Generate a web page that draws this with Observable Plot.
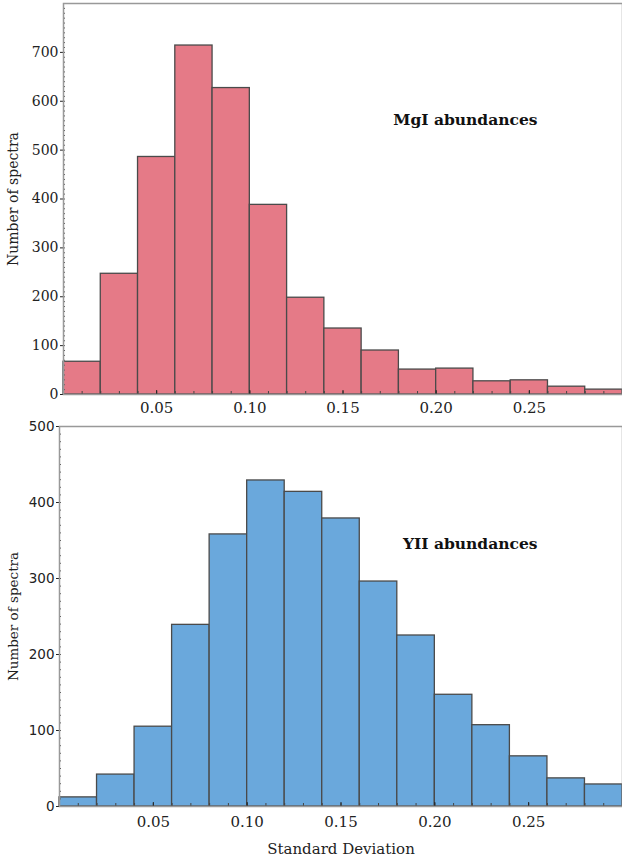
<!DOCTYPE html>
<html>
<head>
<meta charset="utf-8">
<script src="https://cdn.jsdelivr.net/npm/d3@7"></script>
<script src="https://cdn.jsdelivr.net/npm/@observablehq/plot@0.6"></script>
<style>
  html, body { margin: 0; padding: 0; background: #fff; }
  svg { display: block; overflow: visible; }
  #chart svg, #chart svg text { font-family: 'DejaVu Serif', serif !important; }
  #chart svg.bottom g[aria-label="y-axis tick label"],
  #chart svg.bottom g[aria-label="y-axis tick label"] text { font-family: 'DejaVu Sans', sans-serif !important; }
</style>
</head>
<body>
<div id="chart"></div>
<script>
// Bin edges (Standard Deviation), bin width 0.02
const binStart = [0.00, 0.02, 0.04, 0.06, 0.08, 0.10, 0.12, 0.14, 0.16, 0.18, 0.20, 0.22, 0.24, 0.26, 0.28];
const binEnd   = [0.02, 0.04, 0.06, 0.08, 0.10, 0.12, 0.14, 0.16, 0.18, 0.20, 0.22, 0.24, 0.26, 0.28, 0.30];
// Counts
const mgCounts = [67, 247, 486, 714, 627, 388, 198, 135, 90, 51, 53, 27, 29, 16, 10];
const yCounts  = [12, 42, 105, 239, 358, 429, 414, 379, 296, 225, 147, 107, 66, 37, 29];
// Tick labels
const xTickLabels = [0.05, 0.10, 0.15, 0.20, 0.25];
const yTicksTop = [0, 100, 200, 300, 400, 500, 600, 700];
const yTicksBottom = [0, 100, 200, 300, 400, 500];
const titles = ["MgI abundances", "YII abundances"];
const yLabel = "Number of spectra";
const xLabel = "Standard Deviation";

const mgData = binStart.map((b, i) => ({x1: b, x2: binEnd[i], count: mgCounts[i]}));
const yData  = binStart.map((b, i) => ({x1: b, x2: binEnd[i], count: yCounts[i]}));

const serif = "'DejaVu Serif', serif";
const sans = "'DejaVu Sans', sans-serif";

function panel({data, fill, yMax, yTicks, title, height, mTop, mBottom, mLeft, yFont, showXLabel, titleDy, xPad, cls}) {
  return Plot.plot({
    className: cls,
    width: 622,
    height,
    marginLeft: mLeft,
    marginRight: 0,
    marginTop: mTop,
    marginBottom: mBottom,
    x: {domain: [0, 0.3]},
    y: {domain: [0, yMax]},
    style: {fontFamily: serif, fontSize: "14px", color: "#222", background: "#fff", overflow: "visible"},
    marks: [
      Plot.rectY(data, {x1: "x1", x2: "x2", y: "count", fill, stroke: "#4a4a4a", strokeWidth: 1.3, inset: 0}),
      Plot.axisX({ticks: 30, tickSize: -3, tickFormat: () => "", label: null, stroke: "#444"}),
      Plot.axisX({ticks: xTickLabels, tickSize: -4, tickPadding: xPad, tickFormat: d3.format(".2f"),
                  fontSize: 15, fill: "#222",
                  label: showXLabel ? xLabel : null, labelAnchor: "center", labelArrow: "none", labelOffset: 47}),
      Plot.axisY({ticks: d3.range(0, yMax + 1, 10), tickSize: -2, tickFormat: () => "", label: null, stroke: "#555"}),
      Plot.axisY({ticks: yTicks, tickSize: 3, tickPadding: 2, tickFormat: d => d,
                  fontSize: yFont, fill: "#222",
                  label: yLabel, labelAnchor: "center", labelArrow: "none", labelOffset: mLeft - 8}),
      Plot.frame({stroke: "#999", strokeWidth: 1.5}),
      Plot.text([title], {frameAnchor: "top-right", dx: -85, dy: titleDy, textAnchor: "end",
                          fontSize: 15.5, fontWeight: "bold", fill: "#111"})
    ]
  });
}

const topPanel = panel({
  data: mgData, fill: "#e57a87", yMax: 800, yTicks: yTicksTop, title: titles[0],
  height: 420, mTop: 3, mBottom: 26, mLeft: 63, cls: "top",
  yFont: 14, showXLabel: false, titleDy: 110, xPad: 12
});
const bottomPanel = panel({
  data: yData, fill: "#6aa8dc", yMax: 500, yTicks: yTicksBottom, title: titles[1],
  height: 441, mTop: 6, mBottom: 55, mLeft: 59, cls: "bottom",
  yFont: 13.5, showXLabel: true, titleDy: 111, xPad: 14
});
const root = document.getElementById("chart");
root.appendChild(topPanel);
root.appendChild(bottomPanel);
</script>
</body>
</html>
